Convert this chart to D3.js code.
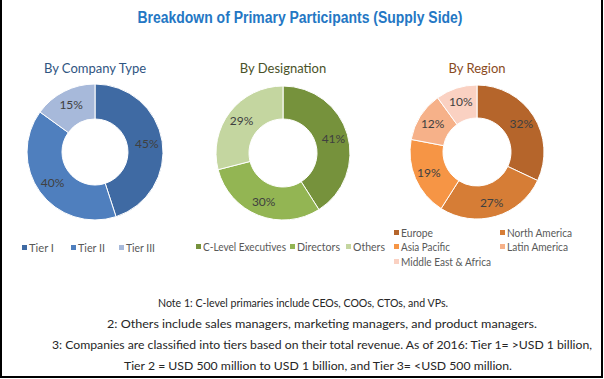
<!DOCTYPE html>
<html><head><meta charset="utf-8">
<script src="https://cdn.jsdelivr.net/npm/d3@7"></script>
<style>body{margin:0;background:#fff}svg{display:block}</style>
</head><body>
<script>
const title = "Breakdown of Primary Participants (Supply Side)";
const companyLabels = ["Tier I", "Tier II", "Tier III"];
const companyValues = [45, 40, 15];
const companyColors = ["#3F6AA3", "#4F7FBE", "#A7B9DA"];
const designationLabels = ["C-Level Executives", "Directors", "Others"];
const designationValues = [41, 30, 29];
const designationColors = ["#76923C", "#93B553", "#C4D6A0"];
const regionLabels = ["Europe", "North America", "Asia Pacific", "Latin America", "Middle East & Africa"];
const regionValues = [32, 27, 19, 12, 10];
const regionColors = ["#B5652B", "#D67D36", "#F69545", "#F6B189", "#FAD1C2"];
const notes = [
  "Note 1: C-level primaries include CEOs, COOs, CTOs, and VPs.",
  "2: Others include sales managers, marketing managers, and product managers.",
  "3: Companies are classified into tiers based on their total revenue. As of 2016: Tier 1= >USD 1 billion,",
  "Tier 2 = USD 500 million to USD 1 billion, and Tier 3= <USD 500 million."
];

const W = 604, H = 379;
const svg = d3.select("body").append("svg").attr("width", W).attr("height", H);
svg.append("rect").attr("width", W).attr("height", H).attr("fill", "#fff");
// frame
svg.append("path").attr("d", `M1,0 V377 H602 V0`).attr("fill", "none").attr("stroke", "#000").attr("stroke-width", 2);

svg.append("text").attr("x", 300).attr("y", 23).attr("text-anchor", "middle")
  .attr("font-family", "'Liberation Sans Narrow','Arial Narrow',sans-serif").attr("font-weight", "bold")
  .attr("font-size", 16).attr("fill", "#2477C4").attr("textLength", 325).attr("lengthAdjust", "spacingAndGlyphs").text(title);

const font = "Lato, 'Open Sans', sans-serif";

function donut(cfg) {
  const g = svg.append("g").attr("transform", `translate(${cfg.cx},${cfg.cy})`);
  const pie = d3.pie().sort(null).value(d => d)(cfg.values);
  const arc = d3.arc().innerRadius(cfg.ri).outerRadius(cfg.ro);
  g.selectAll("path").data(pie).join("path")
    .attr("d", arc).attr("fill", (d, i) => cfg.colors[i])
    .attr("stroke", "#fff").attr("stroke-width", 1);
  const la = d3.arc().innerRadius((cfg.ri + cfg.ro) / 2 + 2).outerRadius((cfg.ri + cfg.ro) / 2 + 2);
  g.selectAll("text").data(pie).join("text")
    .attr("transform", d => `translate(${la.centroid(d)})`)
    .attr("text-anchor", "middle").attr("dy", "0.35em")
    .attr("font-family", font).attr("font-size", 12).attr("fill", "#404040")
    .text(d => d.data + "%");
  svg.append("text").attr("x", cfg.cx).attr("y", 73).attr("text-anchor", "middle")
    .attr("font-family", font).attr("font-size", 13).attr("fill", cfg.titleColor).text(cfg.title);
}

donut({cx: 95, cy: 152, ro: 68, ri: 33, values: companyValues, colors: companyColors, title: "By Company Type", titleColor: "#2F5582"});
donut({cx: 283, cy: 153, ro: 67, ri: 34, values: designationValues, colors: designationColors, title: "By Designation", titleColor: "#4A5228"});
donut({cx: 477, cy: 152, ro: 67, ri: 34, values: regionValues, colors: regionColors, title: "By Region", titleColor: "#8A4B1E"});

function legendItem(x, y, color, label, w) {
  svg.append("rect").attr("x", x).attr("y", y - 3).attr("width", 5).attr("height", 5).attr("fill", color);
  svg.append("text").attr("x", x + 7).attr("y", y).attr("dy", "0.35em")
    .attr("font-family", font).attr("font-size", 11).attr("fill", "#595959")
    .attr("textLength", w).attr("lengthAdjust", "spacingAndGlyphs").text(label);
}
const l1x = [22, 71, 119], l1w = [25, 27, 29];
companyLabels.forEach((l, i) => legendItem(l1x[i], 248, companyColors[i], l, l1w[i]));
const l2x = [196, 290, 346], l2w = [83, 43, 32];
designationLabels.forEach((l, i) => legendItem(l2x[i], 247, designationColors[i], l, l2w[i]));
const l3 = [[394, 233], [500, 233], [394, 247], [500, 247], [394, 262]];
const l3w = [32, 65, 49, 61, 90];
regionLabels.forEach((l, i) => legendItem(l3[i][0], l3[i][1], regionColors[i], l, l3w[i]));

const noteX = [303, 322, 322, 318];
const noteW = [290, 430, 540, 388];
notes.forEach((t, i) => {
  svg.append("text").attr("x", noteX[i]).attr("y", 307 + i * 21).attr("text-anchor", "middle")
    .attr("font-family", font).attr("font-size", 12).attr("fill", "#262626")
    .attr("textLength", noteW[i]).attr("lengthAdjust", "spacingAndGlyphs").text(t);
});
</script>
</body></html>
